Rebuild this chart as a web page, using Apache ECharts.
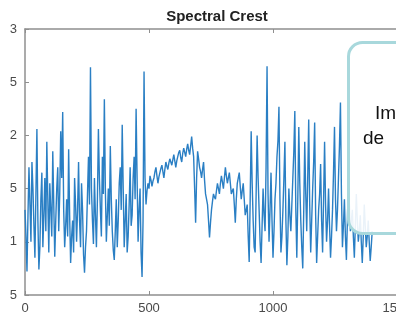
<!DOCTYPE html>
<html>
<head>
<meta charset="utf-8">
<script src="https://cdn.jsdelivr.net/npm/echarts@6/dist/echarts.min.js"></script>
<style>
  html, body { margin: 0; padding: 0; background: #fff; overflow: hidden; }
  #chart { width: 396px; height: 321px; }
</style>
</head>
<body>
<div id="chart"></div>
<script>
// Spectral crest per analysis frame (frame spacing of 4)
const frameStep = 4;

// frames 0-484: busy, strongly fluctuating section
const crestStart = [
  1.30, 1.05, 0.72, 1.25, 1.70, 1.35, 1.00, 1.75, 1.50, 1.15,
  0.85, 1.45, 2.06, 1.20, 0.74, 0.95, 1.40, 1.65, 0.95, 1.25,
  1.60, 1.10, 1.94, 1.40, 0.90, 1.55, 1.30, 1.05, 1.85, 1.35,
  0.86, 1.20, 1.50, 1.70, 1.10, 1.45, 2.04, 1.60, 2.22, 1.30,
  0.95, 1.15, 1.40, 1.05, 1.87, 1.25, 0.80, 1.05, 1.20, 0.90,
  1.60, 1.35, 1.00, 1.30, 1.75, 1.20, 0.95, 1.55, 1.30, 0.88,
  0.71, 0.95, 1.10, 1.45, 1.80, 1.35, 2.64, 1.50, 1.20, 0.98,
  1.60, 1.25, 0.95, 1.40, 2.06, 1.60, 1.30, 1.05, 1.80, 1.45,
  2.34, 1.50, 1.00, 1.25, 1.50, 1.15, 1.90, 1.40, 1.10, 0.92,
  0.83, 1.10, 1.40, 0.95, 1.20, 1.55, 1.70, 1.30, 2.10, 1.50,
  0.95, 1.20, 1.45, 0.90, 1.05, 1.35, 1.70, 1.15, 1.25, 1.60,
  1.80, 1.40, 2.25, 1.60, 1.00, 1.30, 1.50, 0.90, 0.67, 1.20,
  2.60, 1.60
];

// frames 488-896: calmer hump
const crestMiddle = [
  1.35, 1.48, 1.55, 1.50, 1.62, 1.58, 1.52, 1.57, 1.60, 1.66,
  1.70, 1.62, 1.55, 1.61, 1.65, 1.69, 1.72, 1.66, 1.60, 1.68,
  1.75, 1.71, 1.68, 1.74, 1.78, 1.75, 1.72, 1.77, 1.82, 1.76,
  1.70, 1.76, 1.80, 1.84, 1.86, 1.79, 1.75, 1.83, 1.88, 1.84,
  1.80, 1.87, 1.92, 1.86, 1.82, 1.90, 1.99, 1.88, 1.80, 1.50,
  1.18, 1.60, 1.85, 1.78, 1.70, 1.66, 1.60, 1.68, 1.75, 1.58,
  1.45, 1.40, 1.35, 1.20, 1.04, 1.18, 1.30, 1.38, 1.45, 1.42,
  1.40, 1.48, 1.55, 1.50, 1.45, 1.55, 1.62, 1.56, 1.50, 1.60,
  1.70, 1.62, 1.55, 1.60, 1.65, 1.55, 1.45, 1.48, 1.50, 1.35,
  1.18, 1.40, 1.55, 1.60, 1.65, 1.52, 1.40, 1.48, 1.55, 1.40,
  1.25, 1.30, 1.35
];

// frames 900-1400: busy section again
const crestEnd = [
  1.05, 0.81, 1.40, 2.04, 1.55, 1.20, 0.95, 0.90, 1.45, 2.00,
  1.60, 1.30, 1.00, 0.80, 1.15, 1.50, 1.25, 1.10, 1.70, 2.65,
  1.45, 1.00, 1.30, 1.65, 1.20, 0.85, 1.10, 1.40, 1.55, 1.80,
  1.95, 2.27, 1.40, 0.90, 1.05, 1.30, 1.60, 1.94, 1.20, 0.78,
  1.05, 1.50, 1.25, 1.10, 1.35, 1.60, 1.85, 2.23, 1.30, 0.85,
  1.40, 2.08, 1.55, 1.20, 0.95, 0.75, 1.30, 1.94, 1.45, 1.10,
  1.60, 2.15, 1.35, 0.90, 1.20, 1.50, 1.75, 2.12, 1.25, 0.80,
  1.05, 1.30, 1.45, 1.73, 1.20, 0.90, 1.40, 1.94, 1.35, 1.00,
  1.20, 1.50, 1.15, 0.85, 1.05, 1.30, 1.65, 2.08, 1.40, 1.10,
  1.30, 1.60, 1.90, 2.31, 1.45, 0.95, 1.15, 1.40, 1.05, 0.83,
  1.20, 1.60, 1.35, 1.10, 1.20, 1.30, 1.05, 0.85, 1.15, 1.45,
  1.20, 1.00, 1.10, 1.25, 1.00, 0.80, 1.05, 1.35, 1.15, 0.95,
  1.05, 1.20, 1.00, 0.82, 0.95, 1.10
];

const xTicks = [0, 500, 1000, 1500];
const yTicks = [0.5, 1, 1.5, 2, 2.5, 3];
const chartTitle = 'Spectral Crest';
const noteLines = ['Im', 'de'];

const crestValues = crestStart.concat(crestMiddle, crestEnd);
const seriesData = crestValues.map((v, i) => [i * frameStep, v]);

const font = '"Liberation Sans", Arial, Helvetica, sans-serif';
const axisGray = '#8f8f8f';
const labelGray = '#4a4a4a';

const chart = echarts.init(document.getElementById('chart'), null, { renderer: 'canvas' });

chart.setOption({
  animation: false,
  backgroundColor: '#ffffff',
  title: {
    text: chartTitle,
    left: 212,
    top: 4,
    textAlign: 'center',
    textStyle: { fontFamily: font, fontSize: 15, fontWeight: 'bold', color: '#222' }
  },
  grid: { left: 25, top: 29, width: 372, height: 266, outerBoundsMode: 'none', containLabel: false },
  xAxis: [{
    type: 'value',
    min: xTicks[0],
    max: xTicks[xTicks.length - 1],
    interval: 500,
    axisLine: { lineStyle: { color: axisGray, width: 1.5 } },
    axisTick: { inside: true, length: 4, lineStyle: { color: axisGray } },
    axisLabel: { margin: 7, fontFamily: font, fontSize: 13, color: labelGray, formatter: v => String(v) },
    splitLine: { show: false }
  }, {
    type: 'value',
    position: 'top',
    min: xTicks[0],
    max: xTicks[xTicks.length - 1],
    interval: 500,
    axisLine: { show: true, lineStyle: { color: axisGray, width: 1.5 } },
    axisTick: { inside: true, length: 4, lineStyle: { color: axisGray } },
    axisLabel: { show: false },
    splitLine: { show: false }
  }],
  yAxis: {
    type: 'value',
    min: yTicks[0],
    max: yTicks[yTicks.length - 1],
    interval: 0.5,
    axisLine: { show: true, lineStyle: { color: axisGray, width: 1.5 } },
    axisTick: { show: true, inside: true, length: 4, lineStyle: { color: axisGray } },
    axisLabel: { margin: 8, fontFamily: font, fontSize: 13, color: labelGray },
    splitLine: { show: false }
  },
  series: [{
    type: 'line',
    data: seriesData,
    showSymbol: false,
    lineStyle: { color: '#2a7fc4', width: 1.4 },
    z: 2
  }],
  graphic: [
    // blank margin along the left edge of the figure
    { type: 'rect', left: 0, top: 0, shape: { width: 10.2, height: 321 }, style: { fill: '#ffffff' }, z: 100 },
    // callout panel on the right
    {
      type: 'rect',
      left: 347, top: 41,
      shape: { width: 80, height: 191, r: 14 },
      style: { fill: 'rgba(255,255,255,0.9)', stroke: '#a8d8dc', lineWidth: 3 },
      z: 50
    },
    { type: 'text', left: 375, top: 104, style: { text: noteLines[0], font: '19px ' + font, fill: '#111' }, z: 51 },
    { type: 'text', left: 363, top: 129, style: { text: noteLines[1], font: '19px ' + font, fill: '#111' }, z: 51 }
  ]
});
</script>
</body>
</html>
